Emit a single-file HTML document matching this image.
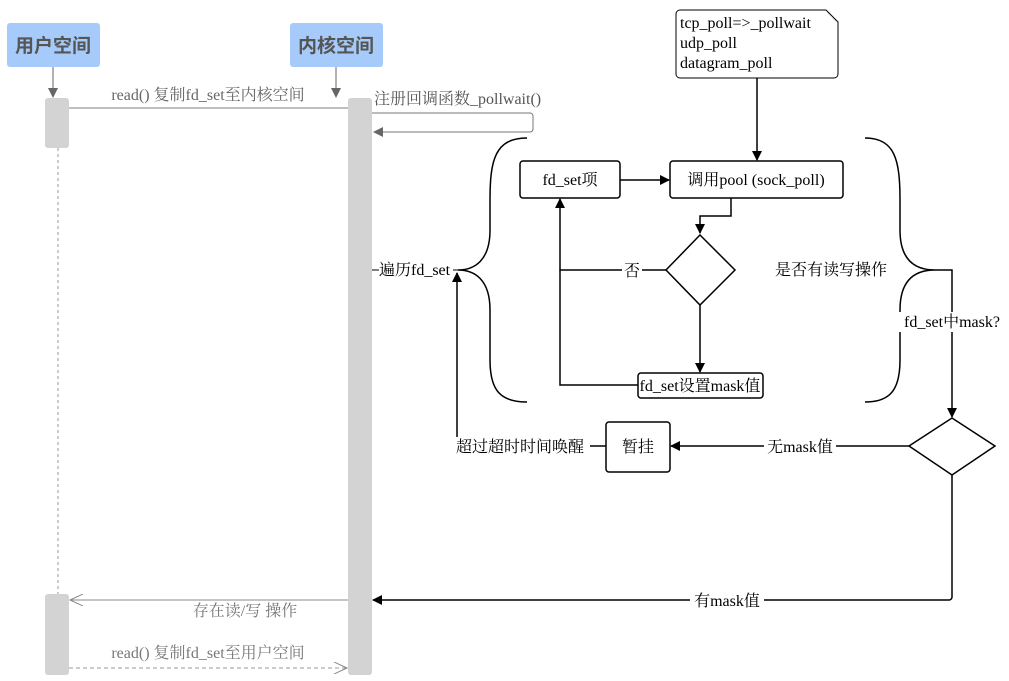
<!DOCTYPE html>
<html><head><meta charset="utf-8"><style>
html,body{margin:0;padding:0;background:#fff;}
svg{display:block;}
text{font-family:"Liberation Serif","Noto Serif CJK SC","Noto Sans CJK SC",serif;font-size:16px;}
</style></head><body>
<svg width="1009" height="681" viewBox="0 0 1009 681" xmlns="http://www.w3.org/2000/svg">
<defs>
<marker id="a" markerWidth="10" markerHeight="10" refX="9" refY="5" orient="auto" markerUnits="userSpaceOnUse"><path d="M0,0 L10,5 L0,10 z" fill="#000"/></marker>
<marker id="g" markerWidth="10" markerHeight="10" refX="9" refY="5" orient="auto" markerUnits="userSpaceOnUse"><path d="M0,0 L10,5 L0,10 z" fill="#666"/></marker>
<marker id="o" markerWidth="14" markerHeight="12" refX="13" refY="6" orient="auto" markerUnits="userSpaceOnUse"><path d="M0,0 L13,6 L0,12" fill="none" stroke="#888"/></marker>
</defs>
<rect x="7" y="23" width="93" height="44" rx="3" fill="#a6cbfa"/>
<text x="53" y="52" text-anchor="middle" fill="#555" style="font-family:'Liberation Sans','Noto Sans CJK SC',sans-serif;font-size:19px;font-weight:bold">用户空间</text>
<rect x="290" y="23" width="93" height="44" rx="3" fill="#a6cbfa"/>
<text x="336" y="52" text-anchor="middle" fill="#555" style="font-family:'Liberation Sans','Noto Sans CJK SC',sans-serif;font-size:19px;font-weight:bold">内核空间</text>
<line x1="53" y1="67" x2="53" y2="97" stroke="#666" marker-end="url(#g)"/>
<line x1="336" y1="67" x2="336" y2="97" stroke="#666" marker-end="url(#g)"/>
<line x1="58" y1="148" x2="58" y2="594" stroke="#999" stroke-dasharray="3,3"/>
<rect x="45" y="98" width="24" height="50" rx="3" fill="#d3d3d3"/>
<rect x="45" y="594" width="24" height="81" rx="3" fill="#d3d3d3"/>
<rect x="348" y="98" width="24" height="577" rx="3" fill="#d3d3d3"/>
<line x1="69" y1="108" x2="348" y2="108" stroke="#aaa" stroke-width="1.5"/>
<text x="208" y="100" text-anchor="middle" fill="#666">read() 复制fd_set至内核空间</text>
<path d="M372,113 H530 a3,3 0 0 1 3,3 V129 a3,3 0 0 1 -3,3 H374" fill="none" stroke="#777" marker-end="url(#g)"/>
<text x="374" y="104" fill="#555">注册回调函数_pollwait()</text>
<line x1="348" y1="600" x2="70" y2="600" stroke="#888" marker-end="url(#o)"/>
<text x="245" y="616" text-anchor="middle" fill="#777">存在读/写 操作</text>
<line x1="69" y1="668" x2="347" y2="668" stroke="#999" stroke-dasharray="4,3" marker-end="url(#o)"/>
<text x="208" y="658" text-anchor="middle" fill="#777">read() 复制fd_set至用户空间</text>
<path d="M680,10 H826 L838,22 V74 a4,4 0 0 1 -4,4 H680 a4,4 0 0 1 -4,-4 V14 a4,4 0 0 1 4,-4 z" fill="#fff" stroke="#000"/>
<path d="M826,10 Q832,20 838,22 Q830,18 826,10z" fill="#666"/>
<text x="680" y="28" fill="#000">tcp_poll=&gt;_pollwait</text>
<text x="680" y="48" fill="#000">udp_poll</text>
<text x="680" y="68" fill="#000">datagram_poll</text>
<line x1="757" y1="78" x2="757" y2="160" stroke="#000" stroke-width="1.5" marker-end="url(#a)"/>
<path d="M527,138 C495,138 490,160 490,200 V230 C490,260 475,270 458,270 C475,270 490,280 490,310 V360 C490,390 500,402 527,402" fill="none" stroke="#000" stroke-width="1.5"/>
<path d="M865,138 C895,138 900,160 900,200 V230 C900,260 915,270 935,270 C915,270 900,280 900,310 V360 C900,390 890,402 865,402" fill="none" stroke="#000" stroke-width="1.5"/>
<line x1="372" y1="270" x2="458" y2="270" stroke="#000"/>
<rect x="379" y="260" width="74" height="18" fill="#fff"/>
<text x="379" y="275" fill="#000">遍历fd_set</text>
<rect x="520" y="161" width="100" height="37" rx="3" fill="#fff" stroke="#000" stroke-width="1.5"/>
<text x="570" y="185" text-anchor="middle">fd_set项</text>
<rect x="670" y="161" width="173" height="37" rx="3" fill="#fff" stroke="#000" stroke-width="1.5"/>
<text x="756" y="185" text-anchor="middle">调用pool (sock_poll)</text>
<line x1="620" y1="180" x2="669" y2="180" stroke="#000" stroke-width="1.5" marker-end="url(#a)"/>
<path d="M731,198 V216 H700 V233" fill="none" stroke="#000" stroke-width="1.5" marker-end="url(#a)"/>
<path d="M700,235 L735,270 L700,305 L666,270 z" fill="#fff" stroke="#000" stroke-width="1.5"/>
<text x="775" y="275">是否有读写操作</text>
<path d="M666,270 H560 V199" fill="none" stroke="#000" stroke-width="1.5" marker-end="url(#a)"/>
<rect x="622" y="261" width="20" height="18" fill="#fff"/>
<text x="632" y="276" text-anchor="middle">否</text>
<line x1="700" y1="305" x2="700" y2="372" stroke="#000" stroke-width="1.5" marker-end="url(#a)"/>
<rect x="638" y="373" width="125" height="25" rx="3" fill="#fff" stroke="#000" stroke-width="1.5"/>
<text x="700" y="391" text-anchor="middle">fd_set设置mask值</text>
<path d="M638,385 H560 V270" fill="none" stroke="#000" stroke-width="1.5"/>
<path d="M935,270 H952 V417" fill="none" stroke="#000" stroke-width="1.5" marker-end="url(#a)"/>
<rect x="898" y="312" width="108" height="20" fill="#fff"/>
<text x="952" y="327" text-anchor="middle">fd_set中mask?</text>
<path d="M952,418 L995,446 L952,475 L909,446 z" fill="#fff" stroke="#000" stroke-width="1.5"/>
<line x1="909" y1="446" x2="671" y2="446" stroke="#000" stroke-width="1.5" marker-end="url(#a)"/>
<rect x="764" y="437" width="72" height="18" fill="#fff"/>
<text x="800" y="452" text-anchor="middle">无mask值</text>
<rect x="606" y="422" width="64" height="50" rx="3" fill="#fff" stroke="#000" stroke-width="1.5"/>
<text x="638" y="452" text-anchor="middle">暂挂</text>
<path d="M606,446 H457 V273" fill="none" stroke="#000" stroke-width="1.5" marker-end="url(#a)"/>
<rect x="455" y="437" width="135" height="18" fill="#fff"/>
<text x="456" y="452">超过超时时间唤醒</text>
<path d="M952,475 V597 a3,3 0 0 1 -3,3 H373" fill="none" stroke="#000" stroke-width="1.5" marker-end="url(#a)"/>
<rect x="690" y="591" width="74" height="18" fill="#fff"/>
<text x="727" y="606" text-anchor="middle">有mask值</text>
</svg>
</body></html>
